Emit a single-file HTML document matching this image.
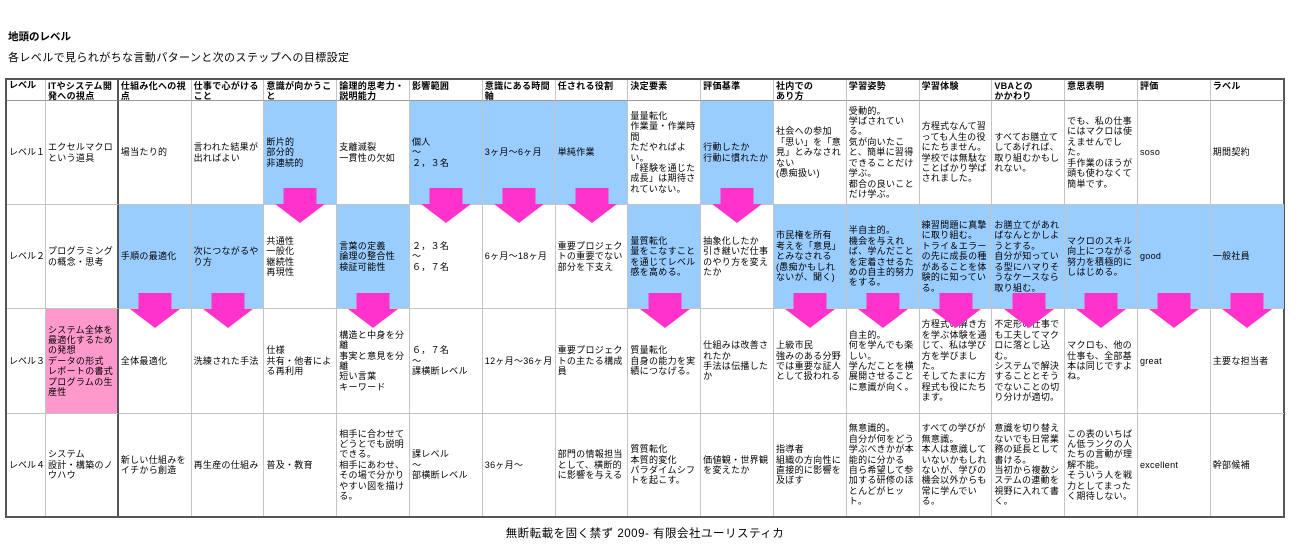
<!DOCTYPE html>
<html><head><meta charset="utf-8">
<style>
*{margin:0;padding:0;box-sizing:border-box}
body{width:1300px;height:550px;background:#fff;position:relative;overflow:hidden;font-family:"Liberation Sans","Noto Sans CJK JP",sans-serif;color:#000}
.t1{position:absolute;left:8px;top:29px;font-size:10.5px;font-weight:bold}
.t2{position:absolute;left:8px;top:49px;font-size:11px;letter-spacing:0.4px}
.foot{position:absolute;left:0;width:1290px;text-align:center;top:525px;font-size:11.5px;letter-spacing:0.5px}
.grid{position:absolute;left:5px;top:78px;width:1280px;height:440px;border:2px solid #555;display:grid;grid-template-columns:39px repeat(17,72.8px);grid-template-rows:21px 104px 104px 105px 1fr}
.grid>div{border-right:1px solid #c4c4c4;border-bottom:1px solid #c4c4c4;font-size:9px;line-height:10.4px;letter-spacing:0.3px;padding:0 2px 0 2px;display:flex;align-items:center;overflow:hidden}
.grid>div.h{font-weight:bold;align-items:flex-start;padding-top:1px;line-height:10px;border-bottom:1px solid #999}
.grid>div.lv{white-space:nowrap;padding:0 0 0 2px;letter-spacing:0}
.grid>div.c0{border-right:2px solid #555}
.grid>div.l{border-right:none}
.b{background:#99ccff}
.p{background:#ff99cc}
.ar{position:absolute;width:50px;height:35px;background:#ff33cc;clip-path:polygon(8.5px 0,41.5px 0,41.5px 16px,50px 16px,25px 35px,0 16px,8.5px 16px)}
</style></head><body>
<div class="t1">地頭のレベル</div>
<div class="t2">各レベルで見られがちな言動パターンと次のステップへの目標設定</div>
<div class="grid">
<div class="h lv">レベル</div><div class="h c0">ITやシステム開発への視点</div><div class="h">仕組み化への視点</div><div class="h">仕事で心がけること</div><div class="h">意識が向かうこと</div><div class="h">論理的思考力・説明能力</div><div class="h">影響範囲</div><div class="h">意識にある時間軸</div><div class="h">任される役割</div><div class="h">決定要素</div><div class="h">評価基準</div><div class="h">社内での<br>あり方</div><div class="h">学習姿勢</div><div class="h">学習体験</div><div class="h">VBAとの<br>かかわり</div><div class="h">意思表明</div><div class="h">評価</div><div class="h l">ラベル</div>

<div class="lv">レベル１</div><div class="c0">エクセルマクロという道具</div><div>場当たり的</div><div>言われた結果が出ればよい</div><div class="b">断片的<br>部分的<br>非連続的</div><div>支離滅裂<br>一貫性の欠如</div><div class="b">個人<br>～<br>２，３名</div><div class="b">3ヶ月～6ヶ月</div><div class="b">単純作業</div><div>量量転化<br>作業量・作業時間<br>ただやればよい。<br>「経験を通じた成長」は期待されていない。</div><div class="b">行動したか<br>行動に慣れたか</div><div>社会への参加<br>「思い」を「意見」とみなされない<br>(愚痴扱い)</div><div>受動的。<br>学ばされている。<br>気が向いたこと、簡単に習得できることだけ学ぶ。<br>都合の良いことだけ学ぶ。</div><div>方程式なんて習っても人生の役にたちません。<br>学校では無駄なことばかり学ばされました。</div><div>すべてお膳立てしてあげれば、取り組むかもしれない。</div><div>でも、私の仕事にはマクロは使えませんでした。<br>手作業のほうが頭も使わなくて簡単です。</div><div>soso</div><div class="l">期間契約</div>

<div class="lv">レベル２</div><div class="c0">プログラミングの概念・思考</div><div class="b">手順の最適化</div><div class="b">次につながるやり方</div><div>共通性<br>一般化<br>継続性<br>再現性</div><div class="b">言葉の定義<br>論理の整合性<br>検証可能性</div><div>２，３名<br>～<br>６，７名</div><div>6ヶ月～18ヶ月</div><div>重要プロジェクトの重要でない部分を下支え</div><div class="b">量質転化<br>量をこなすことを通じてレベル感を高める。</div><div>抽象化したか<br>引き継いだ仕事のやり方を変えたか</div><div class="b">市民権を所有<br>考えを「意見」とみなされる<br>(愚痴かもしれないが、聞く)</div><div class="b">半自主的。<br>機会を与えれば、学んだことを定着させるための自主的努力をする。</div><div class="b">練習問題に真摯に取り組む。<br>トライ＆エラーの先に成長の種があることを体験的に知っている。</div><div class="b">お膳立てがあればなんとかしようとする。<br>自分が知っている型にハマりそうなケースなら取り組む。</div><div class="b">マクロのスキル向上につながる努力を積極的にしはじめる。</div><div class="b">good</div><div class="b l">一般社員</div>

<div class="lv">レベル３</div><div class="c0 p">システム全体を最適化するための発想<br>データの形式<br>レポートの書式<br>プログラムの生産性</div><div>全体最適化</div><div>洗練された手法</div><div>仕様<br>共有・他者による再利用</div><div>構造と中身を分離<br>事実と意見を分離<br>短い言葉<br>キーワード</div><div>６，７名<br>～<br>課横断レベル</div><div>12ヶ月～36ヶ月</div><div>重要プロジェクトの主たる構成員</div><div>質量転化<br>自身の能力を実績につなげる。</div><div>仕組みは改善されたか<br>手法は伝播したか</div><div>上級市民<br>強みのある分野では重要な証人として扱われる</div><div>自主的。<br>何を学んでも楽しい。<br>学んだことを横展開させることに意識が向く。</div><div>方程式の解き方を学ぶ体験を通じて、私は学び方を学びました。<br>そしてたまに方程式も役にたちます。</div><div>不定形の仕事でも工夫してマクロに落とし込む。<br>システムで解決することとそうでないことの切り分けが適切。</div><div>マクロも、他の仕事も、全部基本は同じですよね。</div><div>great</div><div class="l">主要な担当者</div>

<div class="lv" style="border-bottom:none">レベル４</div><div class="c0" style="border-bottom:none">システム<br>設計・構築のノウハウ</div><div style="border-bottom:none">新しい仕組みをイチから創造</div><div style="border-bottom:none">再生産の仕組み</div><div style="border-bottom:none">普及・教育</div><div style="border-bottom:none">相手に合わせてどうとでも説明できる。<br>相手にあわせ、その場で分かりやすい図を描ける。</div><div style="border-bottom:none">課レベル<br>～<br>部横断レベル</div><div style="border-bottom:none">36ヶ月～</div><div style="border-bottom:none">部門の情報担当として、横断的に影響を与える</div><div style="border-bottom:none">質質転化<br>本質的変化<br>パラダイムシフトを起こす。</div><div style="border-bottom:none">価値観・世界観を変えたか</div><div style="border-bottom:none">指導者<br>組織の方向性に直接的に影響を及ぼす</div><div style="border-bottom:none">無意識的。<br>自分が何をどう学ぶべきかが本能的に分かる<br>自ら希望して参加する研修のほとんどがヒット。</div><div style="border-bottom:none">すべての学びが無意識。<br>本人は意識していないかもしれないが、学びの機会以外からも常に学んでいる。</div><div style="border-bottom:none">意識を切り替えないでも日常業務の延長として書ける。<br>当初から複数システムの連動を視野に入れて書く。</div><div style="border-bottom:none">この表のいちばん低ランクの人たちの言動が理解不能。<br>そういう人を戦力としてまったく期待しない。</div><div style="border-bottom:none">excellent</div><div class="l" style="border-bottom:none">幹部候補</div>
</div>

<div class="ar" style="left:275px;top:188px"></div>
<div class="ar" style="left:421px;top:188px"></div>
<div class="ar" style="left:494px;top:188px"></div>
<div class="ar" style="left:567px;top:188px"></div>
<div class="ar" style="left:712px;top:188px"></div>

<div class="ar" style="left:130px;top:293px"></div>
<div class="ar" style="left:203px;top:293px"></div>
<div class="ar" style="left:348px;top:293px"></div>
<div class="ar" style="left:640px;top:293px"></div>
<div class="ar" style="left:785px;top:293px"></div>
<div class="ar" style="left:858px;top:293px"></div>
<div class="ar" style="left:931px;top:293px"></div>
<div class="ar" style="left:1004px;top:293px"></div>
<div class="ar" style="left:1076px;top:293px"></div>
<div class="ar" style="left:1149px;top:293px"></div>
<div class="ar" style="left:1222px;top:293px"></div>

<div class="foot">無断転載を固く禁ず 2009- 有限会社ユーリスティカ</div>
</body></html>
